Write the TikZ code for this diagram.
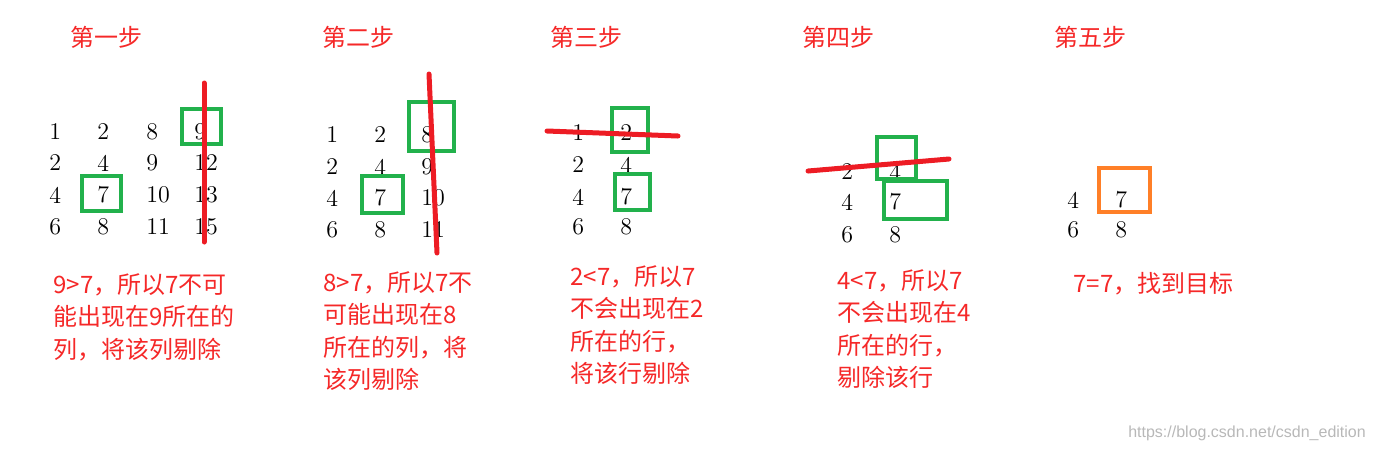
\documentclass[tikz,border=0pt]{standalone}
\usepackage{fontspec}
\newfontfamily\cjk{Noto Sans CJK SC}
\setsansfont{Liberation Sans}
\usetikzlibrary{positioning}
\definecolor{stepred}{RGB}{245,40,40}
\definecolor{cutred}{RGB}{237,28,36}
\definecolor{boxgreen}{RGB}{34,177,76}
\definecolor{boxorange}{RGB}{255,127,39}
\tikzset{x=0.5pt,y=-0.5pt,
      num/.style={inner sep=0pt,anchor=west,font=\fontsize{12}{14}\selectfont},
      steptitle/.style={inner sep=0pt,anchor=west,text=stepred,
      font=\cjk\fontsize{12}{14}\selectfont},
      note/.style={inner sep=0pt,anchor=north west,align=left,text=stepred,
      font=\cjk\fontsize{12}{16.25}\selectfont},
      hitbox/.style={draw=boxgreen,line width=2.4pt},
      goalbox/.style={draw=boxorange,line width=2.4pt},
      cutline/.style={draw=cutred,line width=2.5pt,line cap=round}}

\begin{document}
\begin{tikzpicture}
          \useasboundingbox (0,0) rectangle (1374,452);
          % step 1
          \node[steptitle] (t1) at (70,37) {第一步};
          \node[num] (a11) at (49,132) {1};  \node[num] (a12) at (97,132) {2};
          \node[num] (a13) at (146,132) {8}; \node[num] (a14) at (194,132) {9};
          \node[num] (a21) at (49,163) {2};  \node[num] (a22) at (97,163) {4};
          \node[num] (a23) at (146,163) {9}; \node[num] (a24) at (194,163) {12};
          \node[num] (a31) at (49,195) {4};  \node[num] (a32) at (97,195) {7};
          \node[num] (a33) at (146,195) {10}; \node[num] (a34) at (194,195) {13};
          \node[num] (a41) at (49,227) {6};  \node[num] (a42) at (97,227) {8};
          \node[num] (a43) at (146,227) {11}; \node[num] (a44) at (194,227) {15};
          \draw[hitbox] (182,109) rectangle (221,144);
          \draw[hitbox] (82,176) rectangle (121,211);
          \draw[cutline] (204,83) -- (204,242);
          \node[note] (n1) at (53,273) {9>7，所以7不可\\能出现在9所在的\\列，将该列剔除};
          % step 2
          \node[steptitle] (t2) at (322,37) {第二步};
          \node[num] (b11) at (326,135) {1};  \node[num] (b12) at (374,135) {2};
          \node[num] (b13) at (421,135) {8};
          \node[num] (b21) at (326,167) {2};  \node[num] (b22) at (374,167) {4};
          \node[num] (b23) at (421,167) {9};
          \node[num] (b31) at (326,198) {4};  \node[num] (b32) at (374,198) {7};
          \node[num] (b33) at (421,198) {10};
          \node[num] (b41) at (326,230) {6};  \node[num] (b42) at (374,230) {8};
          \node[num] (b43) at (421,230) {11};
          \draw[hitbox] (409,102) rectangle (454,151);
          \draw[hitbox] (362,176) rectangle (403,213);
          \draw[cutline] (429,74) -- (437,253);
          \node[note] (n2) at (323,271) {8>7，所以7不\\可能出现在8\\所在的列，将\\该列剔除};
          % step 3
          \node[steptitle] (t3) at (550,37) {第三步};
          \node[num] (c11) at (572,133) {1};  \node[num] (c12) at (620,133) {2};
          \node[num] (c21) at (572,165) {2};  \node[num] (c22) at (620,165) {4};
          \node[num] (c31) at (572,197) {4};  \node[num] (c32) at (620,197) {7};
          \node[num] (c41) at (572,227) {6};  \node[num] (c42) at (620,227) {8};
          \draw[hitbox] (612,108) rectangle (648,152);
          \draw[hitbox] (615,174) rectangle (650,210);
          \draw[cutline] (547,131) -- (678,136);
          \node[note] (n3) at (570,265) {2<7，所以7\\不会出现在2\\所在的行，\\将该行剔除};
          % step 4
          \node[steptitle] (t4) at (802,37) {第四步};
          \node[num] (d11) at (841,172) {2};  \node[num] (d12) at (889,172) {4};
          \node[num] (d21) at (841,202) {4};  \node[num] (d22) at (889,202) {7};
          \node[num] (d31) at (841,235) {6};  \node[num] (d32) at (889,235) {8};
          \draw[hitbox] (877,137) rectangle (916,179);
          \draw[hitbox] (884,181) rectangle (947,219);
          \draw[cutline] (808,171) -- (949,159);
          \node[note] (n4) at (837,269) {4<7，所以7\\不会出现在4\\所在的行，\\剔除该行};
          % step 5
          \node[steptitle] (t5) at (1054,37) {第五步};
          \node[num] (e11) at (1067,200) {4};  \node[num] (e12) at (1115,200) {7};
          \node[num] (e21) at (1067,230) {6};  \node[num] (e22) at (1115,230) {8};
          \draw[goalbox] (1099,168) rectangle (1150,212);
          \node[note] (n5) at (1073,272) {7=7，找到目标};
          \node[text=black!28,font=\sffamily\fontsize{8}{10}\selectfont] (src) at (1247,433)
               {https://blog.csdn.net/csdn\_edition};
       \end{tikzpicture}
\end{document}
